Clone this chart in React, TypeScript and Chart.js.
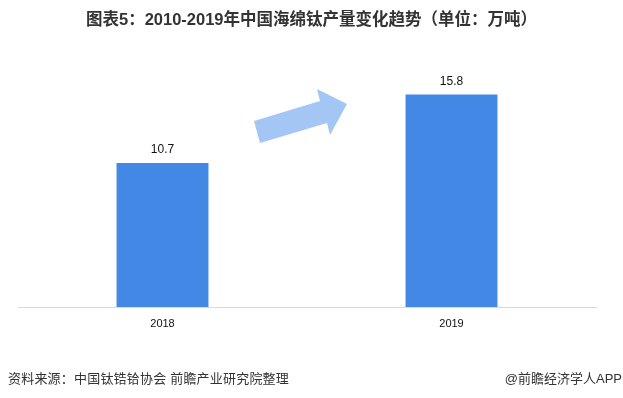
import React, { useEffect, useRef } from "react";
import { Chart, registerables } from "chart.js";

Chart.register(...registerables);

const categories = ["2018", "2019"];
const values = [10.7, 15.8];
const titleText = "图表5：2010-2019年中国海绵钛产量变化趋势（单位：万吨）";
const sourceText = "资料来源：中国钛锆铪协会 前瞻产业研究院整理";
const brandText = "@前瞻经济学人APP";

const FONT = '"Liberation Sans", "Noto Sans CJK SC", sans-serif';

const labelPlugin = {
  id: "valueLabels",
  afterDatasetsDraw(chart: any) {
    const ctx = chart.ctx;
    const meta = chart.getDatasetMeta(0);
    ctx.save();
    ctx.font = `12px ${FONT}`;
    ctx.fillStyle = "#111";
    ctx.textAlign = "center";
    ctx.textBaseline = "bottom";
    meta.data.forEach((el: any, i: number) => {
      ctx.fillText(String(values[i]), el.x, el.y - 7);
    });
    ctx.restore();
  },
};

const arrowPlugin = {
  id: "trendArrow",
  beforeDatasetsDraw(chart: any) {
    const { ctx, chartArea } = chart;
    const x = chart.scales.x;
    const cx = (x.getPixelForValue(0) + x.getPixelForValue(1)) / 2;
    const top = chartArea.top;
    const pts: [number, number][] = [
      [-47, 105],
      [-53, 83],
      [13, 63],
      [10, 51],
      [40, 66],
      [23, 97],
      [20, 85],
    ];
    ctx.save();
    ctx.fillStyle = "#a3c6f5";
    ctx.beginPath();
    pts.forEach(([dx, dy], i) => {
      const px = cx + dx;
      const py = top + dy;
      if (i === 0) ctx.moveTo(px, py);
      else ctx.lineTo(px, py);
    });
    ctx.closePath();
    ctx.fill();
    ctx.restore();
  },
};

export default function App() {
  const ref = useRef<HTMLCanvasElement>(null);
  useEffect(() => {
    if (!ref.current) return;
    const chart = new Chart(ref.current, {
      type: "bar",
      data: {
        labels: categories,
        datasets: [
          {
            data: values,
            backgroundColor: "#4288e4",
            barPercentage: 1,
            categoryPercentage: 0.318,
          },
        ],
      },
      options: {
        animation: false,
        responsive: false,
        maintainAspectRatio: false,
        layout: { padding: { left: 18, right: 27, top: 38, bottom: 0 } },
        plugins: { legend: { display: false }, tooltip: { enabled: false } },
        scales: {
          x: {
            grid: { display: false, drawTicks: false },
            border: { display: true, color: "#d9d9d9", width: 1 },
            ticks: { color: "#111", font: { size: 11, family: FONT }, padding: 10 },
            afterFit: (scale: any) => {
              scale.height = 91;
            },
          },
          y: {
            display: false,
            min: 0,
            max: 20,
          },
        },
      },
      plugins: [arrowPlugin, labelPlugin],
    });
    return () => chart.destroy();
  }, []);

  return (
    <div style={{ position: "absolute", left: 0, top: 0, width: 623, height: 398, background: "#fff", overflow: "hidden" }}>
      <canvas ref={ref} width={623} height={398} style={{ position: "absolute", left: 0, top: 0 }} />
      <div
        style={{
          position: "absolute",
          left: 0,
          top: 9,
          width: 623,
          textAlign: "center",
          fontFamily: FONT,
          fontWeight: "bold",
          fontSize: 16.5,
          color: "#333",
          lineHeight: "20px",
        }}
      >
        {titleText}
      </div>
      <div
        style={{
          position: "absolute",
          left: 8,
          top: 370,
          fontFamily: FONT,
          fontSize: 13,
          color: "#333",
          lineHeight: "18px",
          whiteSpace: "nowrap",
          letterSpacing: 0.2,
        }}
      >
        {sourceText}
      </div>
      <div
        style={{
          position: "absolute",
          right: 1,
          top: 370,
          fontFamily: FONT,
          fontSize: 13,
          color: "#333",
          lineHeight: "18px",
          whiteSpace: "nowrap",
        }}
      >
        {brandText}
      </div>
    </div>
  );
}
